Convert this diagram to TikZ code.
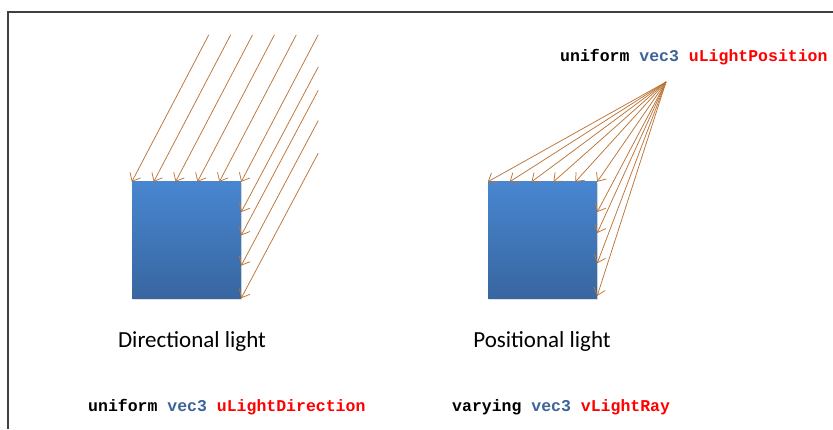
\documentclass[tikz,border=0pt]{standalone}
\usepackage{fontspec}
\setmonofont{Liberation Mono}
\newfontfamily\labelfont{Carlito}
\usetikzlibrary{arrows.meta,calc,shadows}
\definecolor{raybrown}{RGB}{188,116,56}
\definecolor{kwblue}{RGB}{60,100,150}
\definecolor{kwred}{RGB}{255,0,0}
\definecolor{facetop}{RGB}{72,134,208}
\definecolor{facebot}{RGB}{56,102,160}
\tikzset{
  face/.style={minimum width=109pt, minimum height=116pt, inner sep=0pt, top color=facetop, bottom color=facebot,
    drop shadow={opacity=0.25, shadow xshift=1pt, shadow yshift=-1.5pt}},
  ray/.style={draw=raybrown, line width=0.75pt, -{Straight Barb[length=7pt,width=12pt]}},
  code/.style={font=\fontsize{16.5}{18}\selectfont\ttfamily\bfseries, inner sep=0pt, anchor=west},
  caption/.style={font=\labelfont\fontsize{23}{26}\selectfont, inner sep=0pt}
}

\begin{document}
\begin{tikzpicture}[x=1pt, y=1pt]
\useasboundingbox (0,0) rectangle (833,429);
\draw[line width=1.5pt, black!75] (8,0) -- (8,417) -- (833,417);

\node[face] (dsq) at (186.5,189) {};
\node[face] (psq) at (542.5,189) {};
\coordinate (lamp) at (666,347);

% directional light: parallel rays
\foreach \f in {0,0.2,0.4,0.6,0.8,1} {
  \coordinate (dend) at ($(dsq.north west)!\f!(dsq.north east)$);
  \draw[ray] ($(dend)+(77,147)$) -- (dend);
}
\foreach \f in {0.26,0.46,0.72,1} {
  \coordinate (dend) at ($(dsq.north east)!\f!(dsq.south east)$);
  \draw[ray] ($(dend)+(77,145)$) -- (dend);
}

% positional light: rays from one point
\foreach \f in {0,0.2,0.4,0.6,0.8,1}
  \draw[ray] (lamp) -- ($(psq.north west)!\f!(psq.north east)$);
\foreach \f in {0.26,0.44,0.7,0.98}
  \draw[ray] (lamp) -- ($(psq.north east)!\f!(psq.south east)$);

\node[code] (upos) at (560,372) {uniform \textcolor{kwblue}{vec3} \textcolor{kwred}{uLightPosition}};
\node[caption] (dcap) at (192,88) {Directional light};
\node[caption] (pcap) at (542,88) {Positional light};
\node[code] (udir) at (88,22) {uniform \textcolor{kwblue}{vec3} \textcolor{kwred}{uLightDirection}};
\node[code] (vray) at (452,22) {varying \textcolor{kwblue}{vec3} \textcolor{kwred}{vLightRay}};
\end{tikzpicture}
\end{document}
